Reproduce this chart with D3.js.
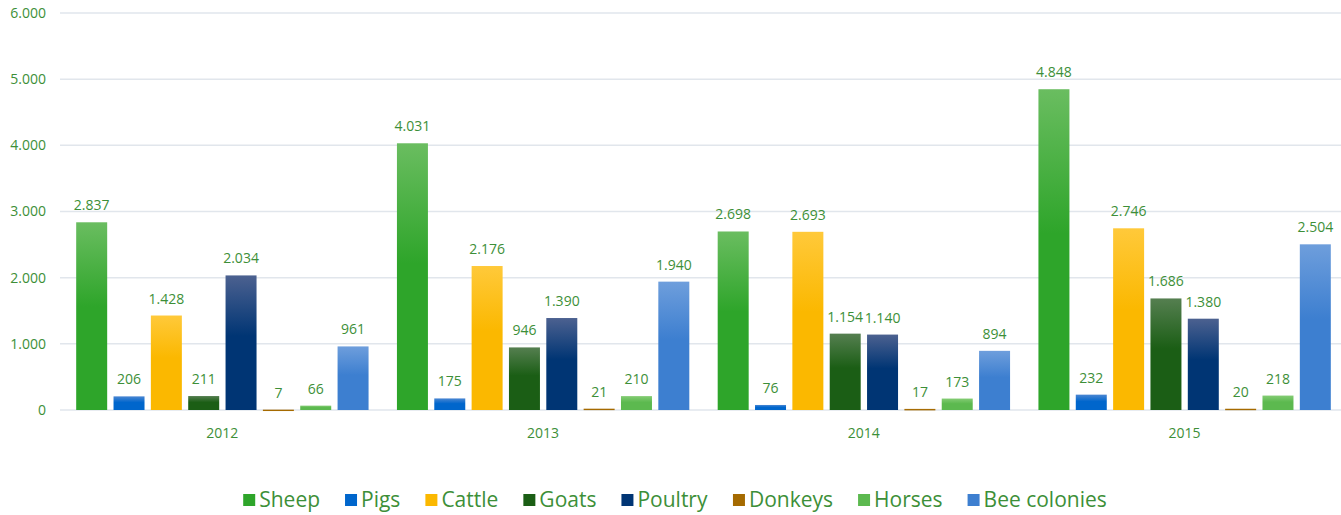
<!DOCTYPE html>
<html>
<head>
  <meta charset="utf-8">
  <title>Livestock by year</title>
  <script src="https://d3js.org/d3.v7.min.js"></script>
  <style>
    body { margin: 0; padding: 0; background: #fff; }
    text { font-family: "Open Sans", "Noto Sans", sans-serif; fill: #3d8f38; }
    .grid line { stroke: #e1e6ec; stroke-width: 1.5; }
  </style>
</head>
<body>
  <div id="chart"></div>
  <script>
    // data
    var years = ["2012", "2013", "2014", "2015"];
    var series = ["Sheep", "Pigs", "Cattle", "Goats", "Poultry", "Donkeys", "Horses", "Bee colonies"];
    var sheep   = [2837, 4031, 2698, 4848];
    var pigs    = [206, 175, 76, 232];
    var cattle  = [1428, 2176, 2693, 2746];
    var goats   = [211, 946, 1154, 1686];
    var poultry = [2034, 1390, 1140, 1380];
    var donkeys = [7, 21, 17, 20];
    var horses  = [66, 210, 173, 218];
    var bees    = [961, 1940, 894, 2504];
    var yTicks  = [0, 1000, 2000, 3000, 4000, 5000, 6000];

    var values = [sheep, pigs, cattle, goats, poultry, donkeys, horses, bees];

    // top / base colour of each bar gradient
    var colTop  = ["#6abd60", "#4a86d2", "#ffc93a", "#557f50", "#4c6190", "#b88a3a", "#84cc74", "#6e9edc"];
    var colBase = ["#2ea52a", "#0066cc", "#fbb800", "#1b5e15", "#003574", "#a56a00", "#5cb94f", "#3d7fd0"];

    var W = 1341, H = 515;
    var plotL = 62, plotR = 1345, plotT = 13, plotB = 410;

    var svg = d3.select("#chart").append("svg")
        .attr("width", W).attr("height", H);

    var defs = svg.append("defs");
    series.forEach(function(s, i) {
      var g = defs.append("linearGradient")
          .attr("id", "grad" + i)
          .attr("x1", 0).attr("y1", 0).attr("x2", 0).attr("y2", 1);
      g.append("stop").attr("offset", "0%").attr("stop-color", colTop[i]);
      g.append("stop").attr("offset", "45%").attr("stop-color", colBase[i]);
      g.append("stop").attr("offset", "100%").attr("stop-color", colBase[i]);
    });

    var loc = d3.formatLocale({decimal: ",", thousands: ".", grouping: [3], currency: ["", ""]});
    var fmt = loc.format(",d");

    var x0 = d3.scaleBand().domain(years).range([plotL, plotR]);
    var x1 = d3.scaleBand().domain(series).range([0, x0.bandwidth()])
        .paddingInner(0.17).paddingOuter(0.38);
    var y = d3.scaleLinear().domain([0, 6000]).range([plotB, plotT]);

    // grid
    svg.append("g").attr("class", "grid")
      .selectAll("line").data(yTicks).enter().append("line")
        .attr("x1", 60).attr("x2", W)
        .attr("y1", function(d) { return y(d); })
        .attr("y2", function(d) { return y(d); });

    // y axis labels
    var yAxis = d3.axisLeft(y).tickValues(yTicks).tickFormat(fmt).tickSize(0).tickPadding(0);
    svg.append("g")
        .attr("transform", "translate(46,0)")
        .call(yAxis)
        .call(function(g) { g.select(".domain").remove(); })
        .selectAll("text")
          .style("font-size", "14px")
          .attr("fill", "#3d8f38");

    // x axis labels
    var xAxis = d3.axisBottom(x0).tickSize(0).tickPadding(0);
    svg.append("g")
        .attr("transform", "translate(0," + (plotB + 18) + ")")
        .call(xAxis)
        .call(function(g) { g.select(".domain").remove(); })
        .selectAll("text")
          .style("font-size", "14px")
          .attr("fill", "#3d8f38");

    // bars
    var groups = svg.selectAll(".year")
        .data(years).enter().append("g")
        .attr("class", "year")
        .attr("transform", function(d) { return "translate(" + x0(d) + ",0)"; });

    groups.each(function(yr, yi) {
      var g = d3.select(this);
      var rows = series.map(function(s, si) { return {s: s, i: si, v: values[si][yi]}; });

      g.selectAll("rect").data(rows).enter().append("rect")
          .attr("x", function(d) { return x1(d.s); })
          .attr("y", function(d) { return y(d.v); })
          .attr("width", x1.bandwidth())
          .attr("height", function(d) { return Math.max(1.5, plotB - y(d.v)); })
          .attr("fill", function(d) { return "url(#grad" + d.i + ")"; });

      g.selectAll("text.val").data(rows).enter().append("text")
          .attr("class", "val")
          .attr("x", function(d) { return x1(d.s) + x1.bandwidth() / 2; })
          .attr("y", function(d) { return y(d.v) - 12; })
          .attr("text-anchor", "middle")
          .style("font-size", "14px")
          .text(function(d) { return fmt(d.v); });
    });

    // legend
    var leg = svg.append("g").attr("transform", "translate(0,500)");
    var items = leg.selectAll("g").data(series).enter().append("g");
    items.append("rect")
        .attr("width", 12).attr("height", 12).attr("y", -6)
        .attr("fill", function(d, i) { return colBase[i]; });
    items.append("text")
        .attr("x", 16)
        .attr("dy", "0.35em")
        .style("font-size", "21px")
        .text(function(d) { return d; });

    var gap = 25, pos = 0, xs = [];
    items.each(function() {
      xs.push(pos);
      pos += this.getBBox().width + gap;
    });
    var total = pos - gap;
    var start = 675 - total / 2;
    items.attr("transform", function(d, i) { return "translate(" + (start + xs[i]) + ",0)"; });
  </script>
</body>
</html>
